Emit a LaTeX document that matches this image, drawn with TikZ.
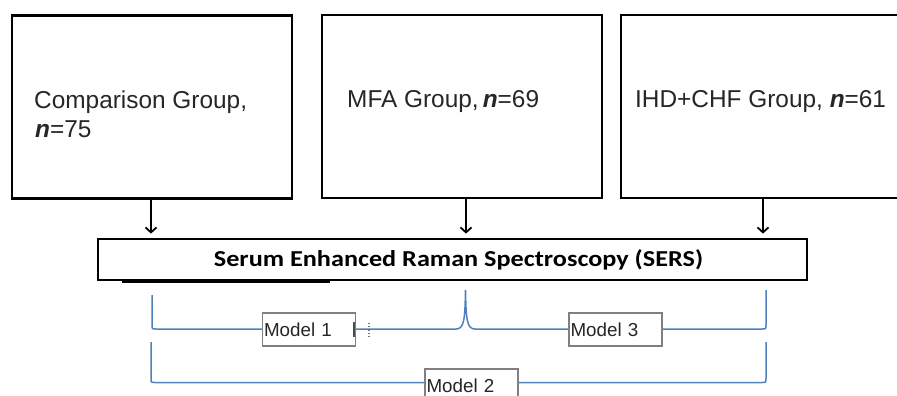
\documentclass[tikz,border=0pt]{standalone}
\usepackage{fontspec}
\setmainfont{Liberation Sans}
\newfontfamily\calibfont[FakeStretch=1.15]{Carlito}
\usetikzlibrary{arrows.meta}
\definecolor{brkblue}{RGB}{79,129,189}
\newcommand\nvar{\textbf{\textit{n}}}
\begin{document}
\begin{tikzpicture}[x=1pt,y=-1pt,
  grp/.style={draw=black, line width=2.8pt, minimum width=280pt, minimum height=183pt, inner sep=0pt},
  lbl/.style={anchor=base west, font=\fontsize{24.4}{29}\selectfont, text=black!85, inner sep=0pt},
  sersbox/.style={draw=black, line width=2.8pt, minimum width=709pt, minimum height=41pt, inner sep=0pt,
    font=\calibfont\bfseries\fontsize{22.8}{26}\selectfont},
  arr/.style={draw=black, line width=1.8pt, -{Straight Barb[length=5pt,width=11pt,line width=1.8pt]}, shorten >=4pt},
  brk/.style={draw=brkblue, line width=1.5pt},
  mbox/.style={draw=black!50, line width=1.1pt, fill=white, minimum height=33pt, text width=90pt, inner xsep=1.5pt,
    align=left, font=\fontsize{18.8}{22}\selectfont, text=black!85}]
\useasboundingbox (0,0) rectangle (897,396);
\clip (0,0) rectangle (897,396);

% group boxes
\node[grp] (g1) at (152,107) {};
\node[grp] (g2) at (462,106.5) {};
\node[grp] (g3) at (761,106.5) {};

% group texts
\node[lbl] (t1) at (34,108) {Comparison Group,};
\node[lbl] (t1b) at (35,137) {\nvar=75};
\node[lbl] (t2) at (347,107) {MFA Group,\,\nvar=69};
\node[lbl] (t3) at (635,107) {IHD+CHF Group, \nvar=61};

% SERS box
\node[sersbox] (s) at (452.5,259.5) {\hspace{12pt}Serum Enhanced Raman Spectroscopy (SERS)};
\draw[line width=3pt] (122,281) -- (330,281);

% arrows
\draw[arr] ([xshift=-1pt]g1.south) -- ([xshift=-1pt]g1.south |- s.north);
\draw[arr] ([xshift=4pt]g2.south) -- ([xshift=4pt]g2.south |- s.north);
\draw[arr] ([xshift=2pt]g3.south) -- ([xshift=2pt]g3.south |- s.north);

% brackets
\coordinate (a1) at (152,295);
\coordinate (a2) at (465.5,290);
\coordinate (a3) at (766,290);
\draw[brk] (a1) -- (152,325) .. controls (152,329) .. (156,329) -- (456,329)
  .. controls (464,329) and (465,320) .. (a2)
  .. controls (466,320) and (467,329) .. (475,329) -- (762,329)
  .. controls (766,329) .. (766,325) -- (a3);
\coordinate (c1) at (151,342);
\coordinate (c3) at (766,342);
\draw[brk] (c1) -- (151,378) .. controls (151,382.5) .. (155,382.5) -- (762,382.5)
  .. controls (766,382.5) .. (766,378) -- (c3);

% model labels
\node[mbox] (m1) at (309,329.5) {Model 1};
\node[mbox] (m3) at (615.5,329.5) {Model 3};
\node[mbox] (m2) at (471.5,385.5) {Model 2};
\draw[black!70, line width=1.5pt] (m1.east) ++(-2pt,-7pt) -- ++(0,15pt);
\draw[black!55, line width=1.2pt, dotted] (369,323) -- (369,337);
\end{tikzpicture}
\end{document}
